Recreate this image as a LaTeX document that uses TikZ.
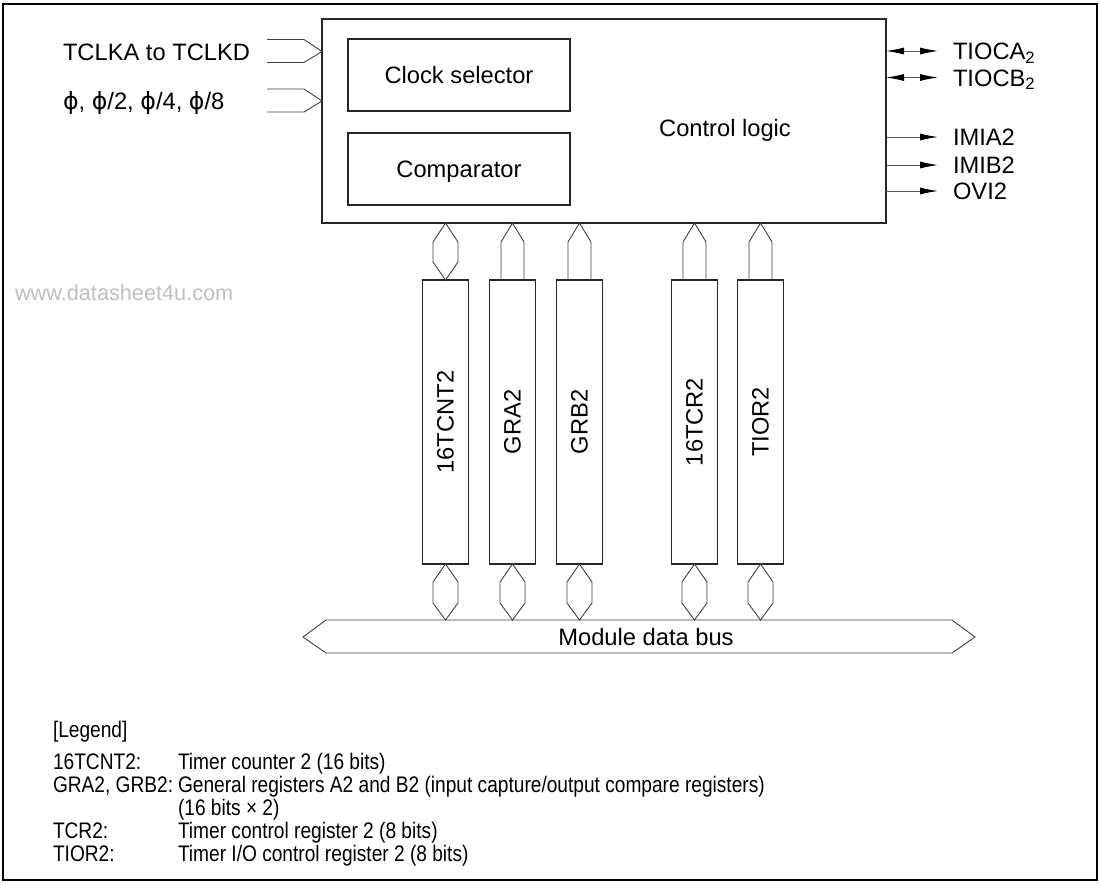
\documentclass[tikz,border=0pt]{standalone}
\usepackage{fontspec}
\setmainfont{Liberation Sans}
\newfontfamily\phifont{DejaVu Sans}
\newfontfamily\legfont[FakeStretch=0.85]{Liberation Sans}
\usepackage{graphicx}
\usepackage{tikz}
\usetikzlibrary{positioning,arrows.meta,calc}

\begin{document}
\begin{tikzpicture}[
    x=1pt, y=-1pt,
    font=\fontsize{23.7}{28}\selectfont,
    every node/.style={inner sep=0pt, outer sep=0pt},
    blk/.style={draw=black!85, line width=1.3pt},
    txt/.style={text height=17pt, text depth=0pt},
    reg/.style={draw=black!85, line width=1.3pt, minimum width=46pt, minimum height=284pt},
    bus/.style={draw=black!75, line width=0.9pt},
    sig/.style={-{Latex[length=18pt,width=7pt,black]}, line width=0.9pt, black!65, shorten >=15pt},
    bisig/.style={{Latex[length=18pt,width=7pt,black]}-{Latex[length=18pt,width=7pt,black]}, line width=0.9pt, black!65, shorten >=15pt},
    outlbl/.style={txt, anchor=west},
    leg/.style={font=\legfont\fontsize{22.5}{26}\selectfont, anchor=base west},
    wmark/.style={font=\fontsize{21.7}{26}\selectfont, text=black!25, anchor=west}
]
\useasboundingbox (0,0) rectangle (1100,884);
\draw[line width=2.5pt] (3,4) rectangle (1097,880);

% control block
\node[blk, minimum width=564pt, minimum height=204pt] (ctl) at (604,121) {};
\node[txt] (ctltxt) at (725,128) {Control logic};
\node[blk, txt, minimum width=222pt, minimum height=72pt,
      below right=20pt and 26pt of ctl.north west] (sel) {Clock selector};
\node[blk, txt, minimum width=222pt, minimum height=72pt, below=22pt of sel] (cmp) {Comparator};

% clock inputs
\node[txt, anchor=west] (tclk) at (63,51.5) {TCLKA to TCLKD};
\node[txt, anchor=west] (phi) at (63,101) {{\phifont ϕ}, {\phifont ϕ}/2, {\phifont ϕ}/4, {\phifont ϕ}/8};
\draw[bus] (ctl.west |- tclk.west) -- ++(-18,-12) -- ++(-37,0)
           (ctl.west |- tclk.west) -- ++(-18,11) -- ++(-37,0);
\draw[bus] (ctl.west |- phi.west) -- ++(-18,-12) -- ++(-37,0)
           (ctl.west |- phi.west) -- ++(-18,11) -- ++(-37,0);

% outputs
\node[outlbl] (tioca) at (953,51) {TIOCA\textsubscript{2}};
\node[outlbl] (tiocb) at (953,77.5) {TIOCB\textsubscript{2}};
\node[outlbl] (imia) at (953,137) {IMIA2};
\node[outlbl] (imib) at (953,165) {IMIB2};
\node[outlbl] (ovi) at (953,191) {OVI2};
\draw[bisig] (ctl.east |- tioca.west) -- (tioca.west);
\draw[bisig] (ctl.east |- tiocb.west) -- (tiocb.west);
\foreach \o in {imia,imib,ovi}
  \draw[sig] (ctl.east |- \o.west) -- (\o.west);

\node[wmark] (wm) at (15,293) {www.datasheet4u.com};

% registers
\node[reg] (cnt) at (445.5,422) {\rotatebox{90}{16TCNT2}};
\node[reg, right=21pt of cnt] (gra) {\rotatebox{90}{GRA2}};
\node[reg, right=21pt of gra] (grb) {\rotatebox{90}{GRB2}};
\node[reg, right=69pt of grb] (tcr) {\rotatebox{90}{16TCR2}};
\node[reg, right=20pt of tcr] (tior) {\rotatebox{90}{TIOR2}};

% links to control block
\draw[bus] (cnt.north) -- ++(-12.5,-18) -- ++(0,-20) -- (cnt.north |- ctl.south)
           -- ++(12.5,19) -- ++(0,20) -- cycle;
\foreach \r in {gra,grb,tcr,tior}
  \draw[bus] ([xshift=-11.5pt]\r.north) -- ++(0,-38) -- (\r.north |- ctl.south)
             -- ++(11.5,19) -- ++(0,38);

% module data bus
\foreach \r in {cnt,gra,grb,tcr,tior}
  \draw[bus] (\r.south) -- ++(-12.5,18) -- ++(0,21) -- ++(12.5,17)
             -- ++(12.5,-17) -- ++(0,-21) -- cycle;
\draw[bus] (303,637) -- (326,620) -- (952,620) -- (975,637) -- (952,653) -- (326,653) -- cycle;
\node[txt] (busname) at (646,637) {Module data bus};

% legend
\node[leg] (lg) at (53,737.5) {[Legend]};
\node[leg] (l1) at (53,769.5) {16TCNT2:};
\node[leg] (d1) at (178,769.5) {Timer counter 2 (16 bits)};
\node[leg] (l2) at (53,792.5) {GRA2, GRB2:};
\node[leg] (d2) at (178,792.5) {General registers A2 and B2 (input capture/output compare registers)};
\node[leg] (d2b) at (178,815.5) {(16 bits × 2)};
\node[leg] (l3) at (53,838.5) {TCR2:};
\node[leg] (d3) at (178,838.5) {Timer control register 2 (8 bits)};
\node[leg] (l4) at (53,861.5) {TIOR2:};
\node[leg] (d4) at (178,861.5) {Timer I/O control register 2 (8 bits)};
\end{tikzpicture}
\end{document}
